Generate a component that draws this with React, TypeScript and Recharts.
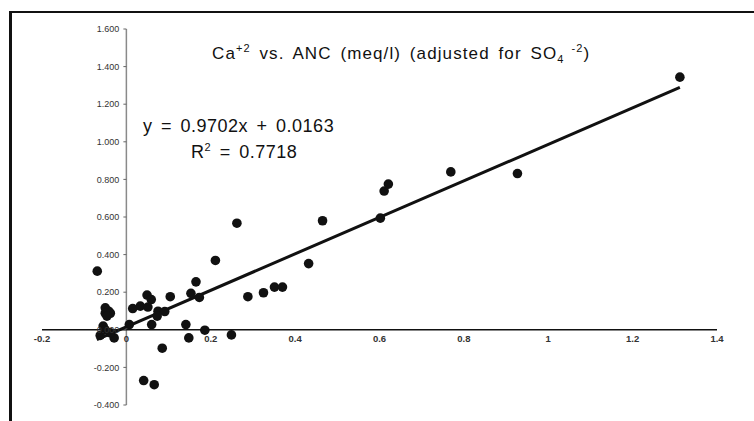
import React from "react";
import {
  ScatterChart,
  Scatter,
  XAxis,
  YAxis,
  ReferenceLine,
  ReferenceDot,
} from "recharts";

// Observed points: ANC (x) vs Ca+2 (y), meq/l
const ancValues = [
  1.312, 0.927, 0.769, 0.611, 0.621, 0.602, 0.465, 0.262, 0.432, 0.211,
  0.288, 0.325, 0.351, 0.370, 0.186, 0.249, 0.148, 0.141, 0.165, 0.153,
  0.173, 0.104, 0.049, 0.059, 0.015, 0.033, 0.051, 0.075, 0.091, 0.073,
  0.060, 0.007, 0.085, 0.041, 0.066, -0.029, -0.069, -0.050, -0.042, -0.050,
  -0.038, -0.046, -0.055, -0.050, -0.038, -0.062,
];
const caValues = [
  1.344, 0.831, 0.840, 0.738, 0.775, 0.594, 0.580, 0.567, 0.352, 0.369,
  0.176, 0.197, 0.227, 0.227, -0.002, -0.027, -0.043, 0.028, 0.255, 0.194,
  0.172, 0.176, 0.185, 0.161, 0.113, 0.126, 0.121, 0.099, 0.097, 0.073,
  0.028, 0.028, -0.098, -0.270, -0.292, -0.043, 0.312, 0.117, 0.099, 0.088,
  0.088, 0.073, 0.020, 0.000, -0.016, -0.030,
];

// Linear trendline endpoints (y = 0.9702x + 0.0163)
const trendX = [-0.07, 1.312];
const trendY = [-0.052, 1.289];

const xTicks = [-0.2, 0, 0.2, 0.4, 0.6, 0.8, 1, 1.2, 1.4];
const xTickLabels = ["-0.2", "0", "0.2", "0.4", "0.6", "0.8", "1", "1.2", "1.4"];
const yTicks = [1.6, 1.4, 1.2, 1.0, 0.8, 0.6, 0.4, 0.2, 0, -0.2, -0.4];
const yTickLabels = [
  "1.600", "1.400", "1.200", "1.000", "0.800", "0.600", "0.400", "0.200",
  "0.000", "-0.200", "-0.400",
];

const titleText = "Ca";
const equationText = "y = 0.9702x + 0.0163";
const r2Value = "0.7718";

const points = ancValues.map((x, i) => ({ x, y: caValues[i] }));
const trend = trendX.map((x, i) => ({ x, y: trendY[i] }));

const FONT = "Arial, 'Liberation Sans', sans-serif";

const Dot = (p: any) => <circle cx={p.cx} cy={p.cy} r={4.8} fill="#111" />;
const NoDot = () => <g />;

export default function App() {
  return (
    <div
      style={{
        position: "absolute",
        left: 0,
        top: 0,
        width: 754,
        height: 421,
        background: "#fff",
        overflow: "hidden",
      }}
    >
      <div
        style={{
          position: "absolute",
          left: 9,
          top: 11,
          width: 760,
          height: 420,
          borderLeft: "3px solid #111",
          borderTop: "2px solid #111",
        }}
      />
      <ScatterChart
        width={754}
        height={421}
        margin={{ top: 29, right: 37, bottom: 16, left: 42 }}
        style={{ position: "absolute", left: 0, top: 0 }}
      >
        <XAxis
          type="number"
          dataKey="x"
          domain={[-0.2, 1.4]}
          ticks={xTicks}
          hide
          allowDataOverflow
        />
        <YAxis
          type="number"
          dataKey="y"
          domain={[-0.4, 1.6]}
          ticks={yTicks}
          hide
          allowDataOverflow
        />
        <ReferenceLine x={0} stroke="#8a8a8a" strokeWidth={1.5} />
        <ReferenceLine y={0} stroke="#111" strokeWidth={1.5} />
        {yTicks.map((v, i) => (
          <ReferenceDot
            key={"yt" + i}
            x={0}
            y={v}
            r={0}
            fill="none"
            stroke="none"
            shape={(p: any) => (
              <line
                x1={p.cx - 3}
                x2={p.cx}
                y1={p.cy}
                y2={p.cy}
                stroke="#666"
                strokeWidth={1}
              />
            )}
            label={{
              value: yTickLabels[i],
              position: "left",
              offset: 7,
              fontSize: 9,
              fill: "#333",
              fontFamily: FONT,
            }}
          />
        ))}
        {xTicks.map((v, i) => (
          <ReferenceDot
            key={"xt" + i}
            x={v}
            y={0}
            r={0}
            fill="none"
            stroke="none"
            label={{
              value: xTickLabels[i],
              position: "bottom",
              offset: 5,
              fontSize: 9.5,
              fontWeight: "bold",
              fill: "#333",
              fontFamily: FONT,
            }}
          />
        ))}
        <Scatter
          data={trend}
          line={{ stroke: "#111", strokeWidth: 3 }}
          shape={NoDot}
          isAnimationActive={false}
        />
        <Scatter data={points} shape={Dot} isAnimationActive={false} />
      </ScatterChart>
      <svg
        width={754}
        height={421}
        style={{ position: "absolute", left: 0, top: 0, pointerEvents: "none" }}
        fontFamily={FONT}
      >
        <text
          x={212}
          y={59}
          fontSize={17}
          fill="#111"
          letterSpacing={1.1}
          wordSpacing={3}
        >
          {titleText}
          <tspan dy={-7} fontSize={11}>+2</tspan>
          <tspan dy={7}> vs. ANC (meq/l) (adjusted for SO</tspan>
          <tspan dy={4} fontSize={11}>4</tspan>
          <tspan dy={-11} fontSize={11}> -2</tspan>
          <tspan dy={7}>)</tspan>
        </text>
        <text
          x={143}
          y={132}
          fontSize={18}
          fill="#111"
          letterSpacing={0.5}
          wordSpacing={3}
        >
          {equationText}
        </text>
        <text
          x={191}
          y={158}
          fontSize={18}
          fill="#111"
          letterSpacing={0.5}
          wordSpacing={3}
        >
          R<tspan dy={-7} fontSize={11}>2</tspan>
          <tspan dy={7}> = {r2Value}</tspan>
        </text>
      </svg>
    </div>
  );
}
